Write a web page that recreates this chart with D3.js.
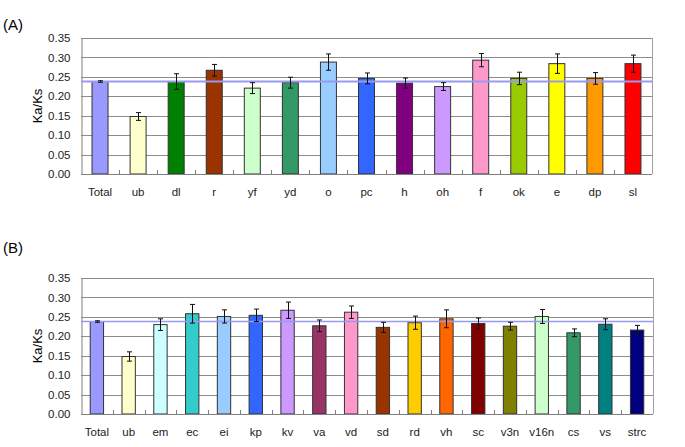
<!DOCTYPE html>
<html>
<head>
<meta charset="utf-8">
<script src="https://cdn.jsdelivr.net/npm/d3@7"></script>
<style>
  html, body { margin: 0; padding: 0; background: #fff; }
  svg { display: block; font-family: "Liberation Sans", Arial, sans-serif; }
</style>
</head>
<body>
<div id="chart"></div>
<script>
// panel A
const catsA   = ["Total", "ub", "dl", "r", "yf", "yd", "o", "pc", "h", "oh", "f", "ok", "e", "dp", "sl"];
const valsA   = [0.238, 0.148, 0.238, 0.267, 0.221, 0.235, 0.288, 0.246, 0.234, 0.225, 0.293, 0.246, 0.284, 0.246, 0.284];
const errsA   = [0.002, 0.010, 0.020, 0.015, 0.014, 0.014, 0.021, 0.014, 0.013, 0.010, 0.017, 0.016, 0.025, 0.015, 0.022];
const colorsA = ["#9999ff", "#ffffcc", "#008000", "#993300", "#ccffcc", "#339966", "#99ccff", "#3366ff",
                 "#800080", "#cc99ff", "#ff99cc", "#99cc00", "#ffff00", "#ff9900", "#ff0000"];

// panel B
const catsB   = ["Total", "ub", "em", "ec", "ei", "kp", "kv", "va", "vd", "sd", "rd", "vh", "sc", "v3n", "v16n", "cs", "vs", "strc"];
const valsB   = [0.238, 0.148, 0.230, 0.258, 0.251, 0.254, 0.267, 0.227, 0.262, 0.223, 0.235, 0.245, 0.233, 0.226, 0.251, 0.209, 0.231, 0.216];
const errsB   = [0.002, 0.012, 0.015, 0.024, 0.017, 0.016, 0.021, 0.015, 0.016, 0.013, 0.017, 0.023, 0.014, 0.010, 0.018, 0.010, 0.014, 0.012];
const colorsB = ["#9999ff", "#ffffcc", "#ccffff", "#33cccc", "#99ccff", "#3366ff", "#cc99ff", "#993366", "#ff99cc",
                 "#993300", "#ffcc00", "#ff6600", "#800000", "#808000", "#ccffcc", "#339966", "#008080", "#000080"];

const yTicks = [0, 0.05, 0.10, 0.15, 0.20, 0.25, 0.30, 0.35];

const W = 685, H = 447;
const svg = d3.select("#chart").append("svg")
  .attr("width", W).attr("height", H)
  .attr("viewBox", `0 0 ${W} ${H}`);

drawPanel({ tag: "(A)", tagY: 30, cats: catsA, vals: valsA, errs: errsA, colors: colorsA,
            left: 81, right: 652, top: 38, bottom: 174, labelY: 196, refWidth: 2 });
drawPanel({ tag: "(B)", tagY: 253, cats: catsB, vals: valsB, errs: errsB, colors: colorsB,
            left: 81, right: 653, top: 278, bottom: 414, labelY: 436, refWidth: 1.5 });

function drawPanel(p) {
  const g = svg.append("g");

  const x = d3.scaleBand()
    .domain(p.cats)
    .range([p.left, p.right])
    .paddingInner(0.58)
    .paddingOuter(0.29);

  const y = d3.scaleLinear()
    .domain([0, 0.35])
    .range([p.bottom, p.top]);

  // panel letter
  g.append("text")
    .attr("x", 3).attr("y", p.tagY)
    .attr("font-size", "15px")
    .attr("fill", "#000")
    .text(p.tag);

  // gridlines
  g.append("g")
    .selectAll("line")
    .data(yTicks.slice(1))
    .join("line")
    .attr("x1", p.left).attr("x2", p.right)
    .attr("y1", d => Math.round(y(d)) + 0.5)
    .attr("y2", d => Math.round(y(d)) + 0.5)
    .attr("stroke", "#8c8c8c")
    .attr("stroke-width", 1);

  // right border
  g.append("line")
    .attr("x1", p.right + 0.5).attr("x2", p.right + 0.5)
    .attr("y1", y(0.35)).attr("y2", y(0))
    .attr("stroke", "#a0a0a0");

  // y axis
  const yAxis = g.append("g")
    .attr("transform", `translate(${p.left + 0.5},0)`)
    .call(d3.axisLeft(y).tickValues(yTicks).tickFormat(d3.format(".2f")).tickSize(0).tickPadding(11));
  yAxis.select(".domain").attr("stroke", "#808080");
  yAxis.selectAll("text").attr("font-size", "11.5px").attr("fill", "#222")
    .attr("font-family", "'Liberation Sans', Arial, sans-serif");

  // axis title
  g.append("text")
    .attr("transform", `translate(42,${(p.top + p.bottom) / 2}) rotate(-90)`)
    .attr("text-anchor", "middle")
    .attr("font-size", "13px")
    .attr("fill", "#000")
    .text("Ka/Ks");

  // bars
  g.append("g")
    .selectAll("rect")
    .data(p.cats)
    .join("rect")
    .attr("x", d => x(d))
    .attr("y", (d, i) => y(p.vals[i]))
    .attr("width", x.bandwidth())
    .attr("height", (d, i) => y(0) - y(p.vals[i]))
    .attr("fill", (d, i) => p.colors[i])
    .attr("stroke", "#333")
    .attr("stroke-width", 1);

  // bottom axis with small upward ticks at band boundaries
  const step = x.step();
  g.append("line")
    .attr("x1", p.left).attr("x2", p.right)
    .attr("y1", Math.round(y(0)) + 0.5).attr("y2", Math.round(y(0)) + 0.5)
    .attr("stroke", "#808080");
  g.append("g")
    .selectAll("line")
    .data(d3.range(1, p.cats.length))
    .join("line")
    .attr("x1", i => Math.round(p.left + i * step) + 0.5)
    .attr("x2", i => Math.round(p.left + i * step) + 0.5)
    .attr("y1", y(0)).attr("y2", y(0) - 4)
    .attr("stroke", "#808080");

  // category labels
  g.append("g")
    .selectAll("text")
    .data(p.cats)
    .join("text")
    .attr("x", d => x(d) + x.bandwidth() / 2)
    .attr("y", p.labelY)
    .attr("text-anchor", "middle")
    .attr("font-size", "11.5px")
    .attr("fill", "#222")
    .text(d => d);

  // reference line at Total
  g.append("line")
    .attr("x1", p.left).attr("x2", p.right)
    .attr("y1", y(p.vals[0])).attr("y2", y(p.vals[0]))
    .attr("stroke", "#9999ee")
    .attr("stroke-width", p.refWidth);

  // error bars
  const cap = 2.5;
  const eb = g.append("g").attr("stroke", "#111").attr("stroke-width", 1);
  p.cats.forEach((c, i) => {
    const cx = Math.round(x(c) + x.bandwidth() / 2) + 0.5;
    const y1 = y(p.vals[i] + p.errs[i]);
    const y2 = y(p.vals[i] - p.errs[i]);
    eb.append("line").attr("x1", cx).attr("x2", cx).attr("y1", y1).attr("y2", y2);
    eb.append("line").attr("x1", cx - cap).attr("x2", cx + cap).attr("y1", y1).attr("y2", y1);
    eb.append("line").attr("x1", cx - cap).attr("x2", cx + cap).attr("y1", y2).attr("y2", y2);
  });
}
</script>
</body>
</html>
